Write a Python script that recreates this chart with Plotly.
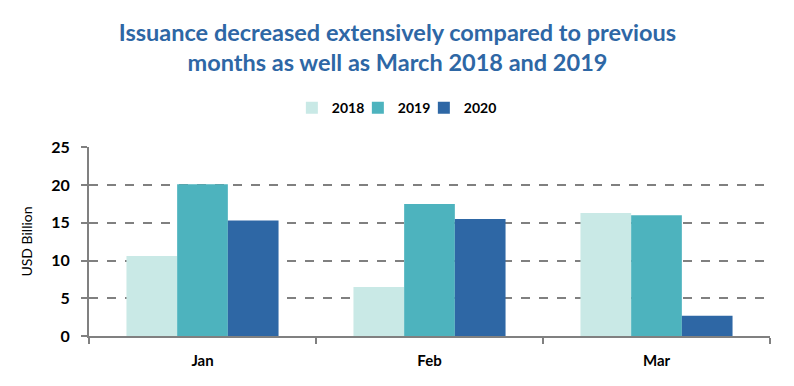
import plotly.graph_objects as go

categories = ["Jan", "Feb", "Mar"]
years = ["2018", "2019", "2020"]
values_2018 = [10.6, 6.5, 16.3]
values_2019 = [20.1, 17.5, 16.0]
values_2020 = [15.3, 15.5, 2.7]
colors = ["#C9E9E6", "#4DB3BE", "#2E67A5"]

series = [values_2018, values_2019, values_2020]
legend_ids = ["legend", "legend2", "legend3"]
legend_x = [0.2979, 0.3948, 0.4917]

font_family = "Lato, Open Sans, sans-serif"

fig = go.Figure()
for name, vals, col, lg in zip(years, series, colors, legend_ids):
    fig.add_trace(go.Bar(
        x=categories, y=vals, name=name, legend=lg, showlegend=True,
        marker=dict(color=col, line=dict(width=0)),
    ))

legend_common = dict(
    orientation="h", xanchor="left", y=1.206, yanchor="middle",
    font=dict(family=font_family, size=14, color="black", weight="bold"),
    itemwidth=30, bgcolor="rgba(0,0,0,0)",
)

fig.update_layout(
    width=786, height=378, showlegend=True,
    margin=dict(l=81, r=24, t=139, b=50, autoexpand=False),
    paper_bgcolor="white", plot_bgcolor="white",
    barmode="group", bargap=0.33, bargroupgap=0,
    title=dict(
        text="<b>Issuance decreased extensively compared to previous<br>months as well as March 2018 and 2019</b>",
        x=0.4955, xanchor="center", y=0.914, yanchor="top",
        font=dict(family=font_family, size=23.5, color="#2E67A5"),
    ),
    legend=dict(x=legend_x[0], **legend_common),
    legend2=dict(x=legend_x[1], **legend_common),
    legend3=dict(x=legend_x[2], **legend_common),
    font=dict(family=font_family, color="black"),
)

fig.update_xaxes(
    showline=True, linecolor="#808080", linewidth=2,
    ticks="outside", tickson="boundaries", ticklen=6, tickcolor="#808080", tickwidth=2,
    tickfont=dict(family=font_family, size=15, color="black", weight="bold"),
    ticklabelstandoff=10,
    showgrid=False,
)
fig.update_yaxes(
    range=[0, 25.05], tickvals=[0, 5, 10, 15, 20, 25],
    showline=True, linecolor="#808080", linewidth=2,
    ticks="outside", ticklen=6, tickcolor="#808080", tickwidth=2,
    showgrid=True, gridcolor="#808080", griddash="dash", gridwidth=2,
    tickfont=dict(family=font_family, size=16, color="black", weight="bold"),
    ticklabelstandoff=8,
    title=dict(text="USD Billion", font=dict(family=font_family, size=14, color="black"), standoff=15),
    zeroline=False,
)

fig.write_html("out.html")
